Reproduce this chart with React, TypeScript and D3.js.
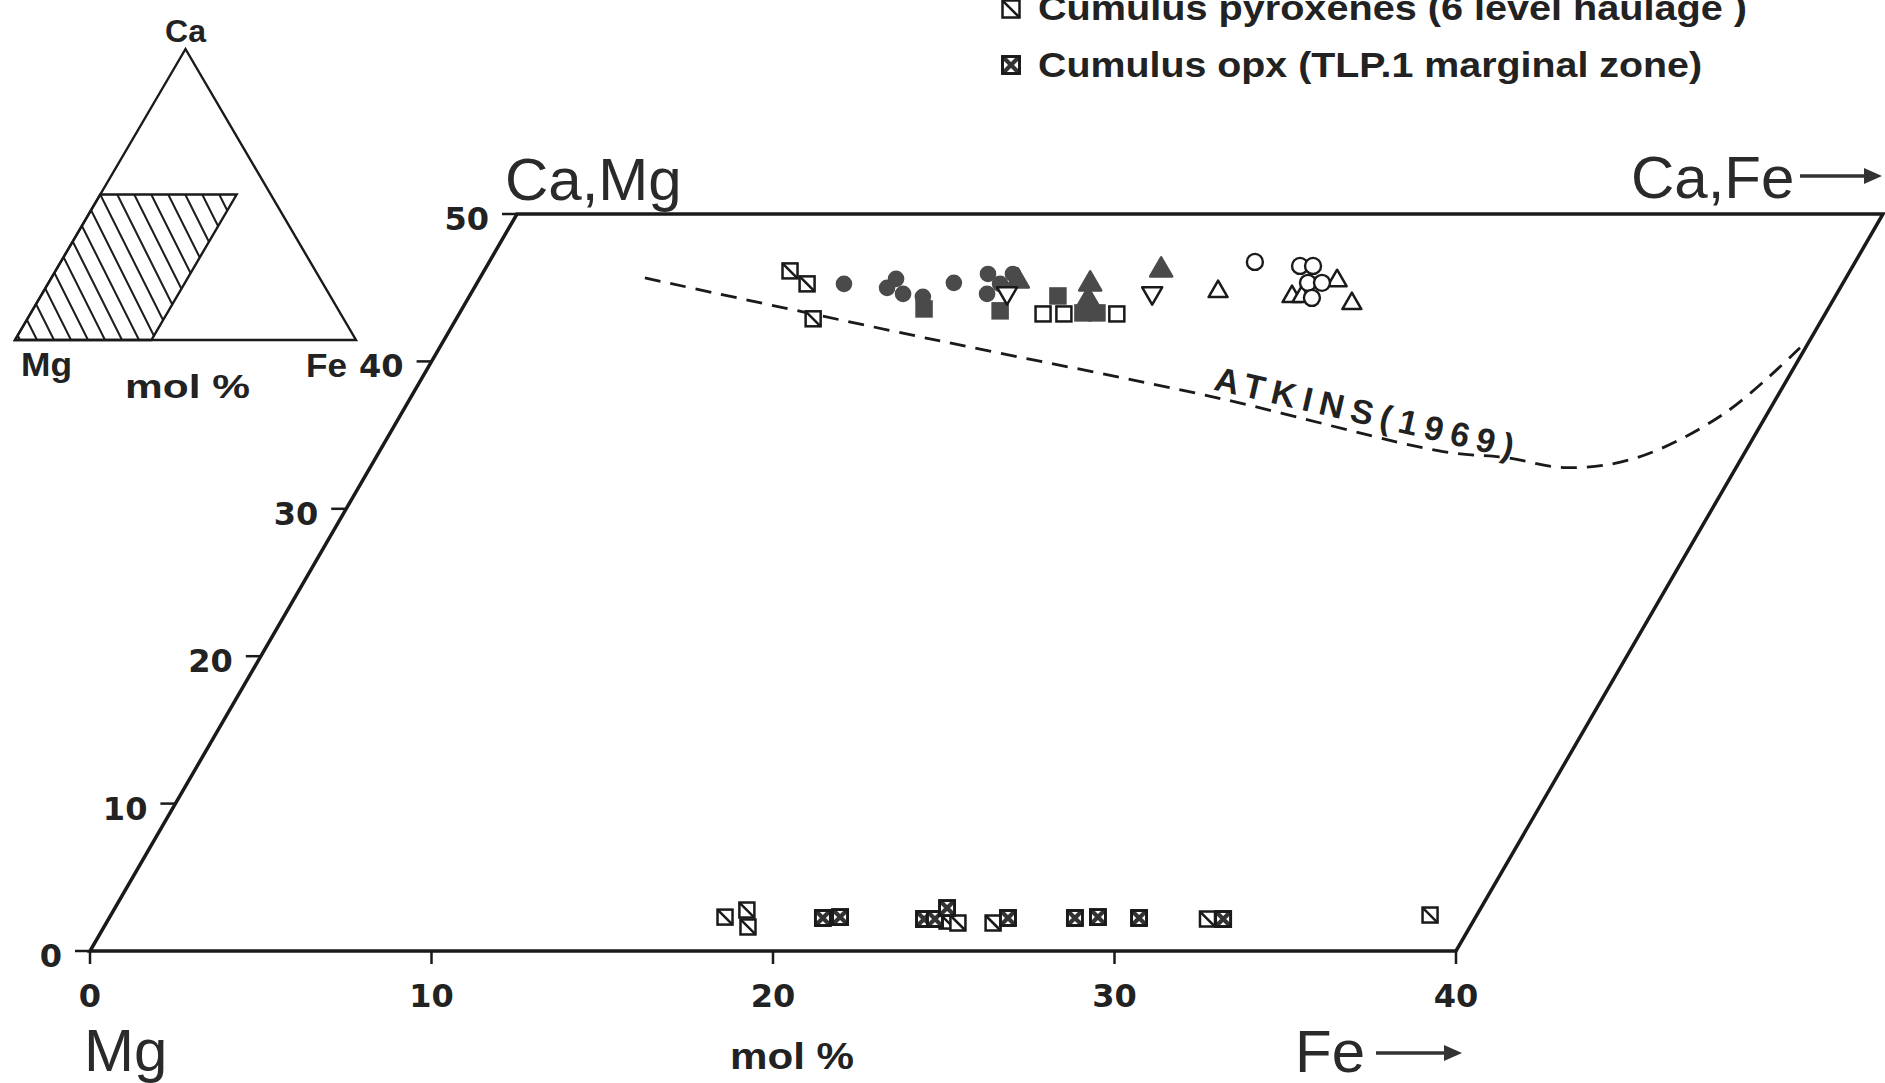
import React from "react";
import * as d3 from "d3";

// axis ticks
const feTicks = [0, 10, 20, 30, 40];
const caTicks = [0, 10, 20, 30, 40, 50];

// data points: [Fe, Ca] in mol %
const filledCircles = [[10.76, 45.26], [12.09, 44.99], [12.2, 45.6], [12.66, 44.58], [13.29, 44.38], [13.96, 45.33], [14.81, 45.93], [15.12, 44.58], [15.33, 45.26], [15.54, 45.93]];
const filledSquares = [[13.53, 43.56], [15.79, 43.43], [17.23, 44.44], [18.25, 43.29], [18.66, 43.29]];
const filledTriangles = [[15.75, 45.66], [17.92, 45.46], [18.13, 44.38], [19.76, 46.41]];
const openSquares = [[17.1, 43.22], [17.71, 43.22], [19.26, 43.22]];
const openInvTriangles = [[15.74, 44.44], [19.99, 44.44]];
const openTriangles = [[21.8, 44.92], [24.05, 44.58], [24.34, 44.58], [25.1, 45.66], [25.92, 44.11]];
const openCircles = [[22.42, 46.75], [23.81, 46.48], [24.19, 46.48], [24.33, 45.33], [24.74, 45.33], [24.7, 44.31]];
const pyx6Level = [[8.96, 46.14], [9.68, 45.26], [10.45, 42.89], [18.02, 2.3], [18.54, 2.78], [18.86, 1.63], [24.59, 2.03], [24.94, 1.9], [25.97, 1.9], [32.18, 2.17], [38.63, 2.44]];
const opxTLP1 = [[20.9, 2.24], [21.39, 2.3], [23.88, 2.17], [24.2, 2.17], [24.37, 2.91], [26.32, 2.24], [28.28, 2.24], [28.94, 2.3], [30.16, 2.24], [32.64, 2.17]];

// Atkins (1969) trend
const atkinsFe = [4.83, 14.21, 23.62, 31.15, 33.1, 35.05, 36.93, 38.73, 39.84];
const atkinsCa = [45.66, 41.53, 37.53, 33.88, 33.47, 32.79, 33.47, 36.45, 40.92];

const legendLabels = ["Cumulus pyroxenes (6 level haulage )", "Cumulus opx (TLP.1 marginal zone)"];

const FONT = "'Liberation Sans', Arial, sans-serif";
const NUMFONT = "'DejaVu Sans', sans-serif";
const INK = "#1a1a1a";
const FILL = "#4a4a4a";

const Sq = ({ cx, cy, s, kind }: any) => {
  const h = s / 2;
  if (kind === "diag")
    return (
      <g>
        <rect x={cx - h} y={cy - h} width={s} height={s} fill="#fff" stroke={INK} strokeWidth={2.5} />
        <line x1={cx - h} y1={cy - h} x2={cx + h} y2={cy + h} stroke={INK} strokeWidth={2.5} />
      </g>
    );
  if (kind === "opx")
    return (
      <g>
        <rect x={cx - h} y={cy - h} width={s} height={s} fill="#fff" stroke={INK} strokeWidth={2.6} />
        <path d={`M${cx - h},${cy - h}L${cx + h},${cy + h}M${cx + h},${cy - h}L${cx - h},${cy + h}`} stroke="#333" strokeWidth={4.2} />
        <rect x={cx - h} y={cy - h} width={s} height={s} fill="none" stroke={INK} strokeWidth={2.8} />
      </g>
    );
  return <rect x={cx - h} y={cy - h} width={s} height={s} fill={kind === "filled" ? FILL : "#fff"} stroke={kind === "filled" ? FILL : INK} strokeWidth={2.5} />;
};

const Tri = ({ cx, cy, s, inv, filled }: any) => {
  const hh = (s * Math.sqrt(3)) / 2;
  const d = inv
    ? `M${cx - s / 2},${cy - hh / 2}L${cx + s / 2},${cy - hh / 2}L${cx},${cy + hh / 2}Z`
    : `M${cx - s / 2},${cy + hh / 2}L${cx + s / 2},${cy + hh / 2}L${cx},${cy - hh / 2}Z`;
  return <path d={d} fill={filled ? FILL : "#fff"} stroke={filled ? FILL : INK} strokeWidth={2.5} strokeLinejoin="round" />;
};

const Arrow = ({ x1, x2, yy }: any) => (
  <g>
    <line x1={x1} y1={yy} x2={x2 - 10} y2={yy} stroke="#333" strokeWidth={3.5} />
    <path d={`M${x2 - 18},${yy - 8}L${x2},${yy}L${x2 - 18},${yy + 8}Z`} fill="#333" />
  </g>
);

export default function App() {
  const x = d3.scaleLinear().domain([0, 40]).range([90, 1456]);
  const y = d3.scaleLinear().domain([0, 50]).range([951, 214]);
  const skew = d3.scaleLinear().domain([0, 50]).range([0, 427]);
  const px = (fe: number, ca: number) => x(fe) + skew(ca);

  const frame = [[0, 0], [40, 0], [40, 50], [0, 50]];
  const framePath = "M" + frame.map((d) => `${px(d[0], d[1])},${y(d[1])}`).join("L") + "Z";

  const atkins = atkinsFe.map((f, i) => [f, atkinsCa[i]]);
  const atkinsPath = d3
    .line<number[]>()
    .x((d) => px(d[0], d[1]))
    .y((d) => y(d[1]))
    .curve(d3.curveCatmullRom.alpha(0.5))(atkins) as string;

  // inset ternary (Ca, Fe in %)
  const tX = d3.scaleLinear().domain([0, 100]).range([15, 356]);
  const tY = d3.scaleLinear().domain([0, 100]).range([340, 49]);
  const tp = (ca: number, fe: number) => [tX(fe + ca / 2), tY(ca)];
  const triPts = [[0, 0], [0, 100], [100, 0]].map((d) => tp(d[0], d[1]));
  const hatchPts = [[0, 0], [0, 40], [50, 40], [50, 0]].map((d) => tp(d[0], d[1]));
  const hatchLines = d3.range(-12, 16).map((k) => {
    const x0 = tX(0) + k * 17;
    return `M${x0 + (180 - 194) * 0.5},180L${x0 + (350 - 194) * 0.5},350`;
  });

  const pt = (d: number[]) => ({ cx: px(d[0], d[1]), cy: y(d[1]) });

  return (
    <svg width={1885} height={1083} style={{ position: "absolute", left: 0, top: 0, background: "#fff" }} fontFamily={FONT}>
      <defs>
        <clipPath id="hatchClip">
          <polygon points={hatchPts.map((p) => p.join(",")).join(" ")} />
        </clipPath>
      </defs>

      {/* inset triangle */}
      <g clipPath="url(#hatchClip)">
        {hatchLines.map((d, i) => (
          <path key={i} d={d} stroke={INK} strokeWidth={2} />
        ))}
      </g>
      <polygon points={hatchPts.map((p) => p.join(",")).join(" ")} fill="none" stroke={INK} strokeWidth={2.4} />
      <polygon points={triPts.map((p) => p.join(",")).join(" ")} fill="none" stroke={INK} strokeWidth={2.4} strokeLinejoin="miter" />
      <text x={tX(50)} y={42} textAnchor="middle" fontSize={32} fontWeight="bold" fill="#222">Ca</text>
      <text x={21} y={376} fontSize={33} fontWeight="bold" fill="#222" textLength={51} lengthAdjust="spacingAndGlyphs">Mg</text>
      <text x={306} y={377} fontSize={33} fontWeight="bold" fill="#222" textLength={41} lengthAdjust="spacingAndGlyphs">Fe</text>
      <text x={125} y={398} fontSize={34} fontWeight="bold" fill="#222" textLength={125} lengthAdjust="spacingAndGlyphs">mol %</text>

      {/* legend */}
      {legendLabels.map((l, i) => (
        <g key={l}>
          <Sq cx={1011} cy={9 + i * 56} s={17} kind={i === 0 ? "diag" : "opx"} />
          <text x={1038} y={20 + i * 57} fontSize={35} fontWeight="bold" fill="#222" textLength={i === 0 ? 709 : 664} lengthAdjust="spacingAndGlyphs">{l}</text>
        </g>
      ))}

      {/* frame */}
      <path d={framePath} fill="none" stroke={INK} strokeWidth={3.5} strokeLinejoin="miter" />

      {/* Fe ticks */}
      {feTicks.map((t) => (
        <g key={"fe" + t}>
          <line x1={x(t)} y1={y(0)} x2={x(t)} y2={y(0) + 13} stroke={INK} strokeWidth={2.5} />
          <text x={x(t)} y={1007} textAnchor="middle" fontFamily={NUMFONT} fontSize={32} fontWeight="bold" fill="#222">{t}</text>
        </g>
      ))}
      {/* Ca ticks */}
      {caTicks.map((t) => (
        <g key={"ca" + t}>
          <line x1={px(0, t) - 15} y1={y(t)} x2={px(0, t)} y2={y(t)} stroke={INK} strokeWidth={2.5} />
          <text x={px(0, t) - 28} y={y(t) + 16} textAnchor="end" fontFamily={NUMFONT} fontSize={32} fontWeight="bold" fill="#222">{t}</text>
        </g>
      ))}

      {/* corner labels */}
      <text x={505} y={200} fontSize={60} fill="#2a2a2a">Ca,Mg</text>
      <text x={1631} y={198} fontSize={60} fill="#2a2a2a">Ca,Fe</text>
      <Arrow x1={1800} x2={1882} yy={176} />
      <text x={84} y={1071} fontSize={60} fill="#2a2a2a">Mg</text>
      <text x={1295} y={1072} fontSize={60} fill="#2a2a2a">Fe</text>
      <Arrow x1={1376} x2={1462} yy={1053} />
      <text x={730} y={1069} fontSize={36} fontWeight="bold" fill="#222" textLength={124} lengthAdjust="spacingAndGlyphs">mol %</text>

      {/* Atkins curve */}
      <path d={atkinsPath} fill="none" stroke={INK} strokeWidth={2.8} strokeDasharray="16 10" />
      <text transform={`translate(${px(23.35, 38.1)},${y(38.1)}) rotate(13)`} fontSize={34} fontWeight="bold" fill="#222" textLength={306} lengthAdjust="spacing">ATKINS(1969)</text>

      {/* data */}
      {filledCircles.map((d, i) => <circle key={"fc" + i} {...pt(d)} r={8.3} fill={FILL} />)}
      {filledSquares.map((d, i) => <Sq key={"fs" + i} {...pt(d)} s={15} kind="filled" />)}
      {filledTriangles.map((d, i) => <Tri key={"ft" + i} {...pt(d)} s={22} filled />)}
      {openSquares.map((d, i) => <Sq key={"os" + i} {...pt(d)} s={15} kind="open" />)}
      {openInvTriangles.map((d, i) => <Tri key={"oi" + i} {...pt(d)} s={20} inv />)}
      {openTriangles.map((d, i) => <Tri key={"ot" + i} {...pt(d)} s={19} />)}
      {openCircles.map((d, i) => <circle key={"oc" + i} {...pt(d)} r={8} fill="#fff" stroke={INK} strokeWidth={2.4} />)}
      {pyx6Level.map((d, i) => <Sq key={"p6" + i} {...pt(d)} s={15} kind="diag" />)}
      {opxTLP1.map((d, i) => <Sq key={"ox" + i} {...pt(d)} s={15} kind="opx" />)}
    </svg>
  );
}
